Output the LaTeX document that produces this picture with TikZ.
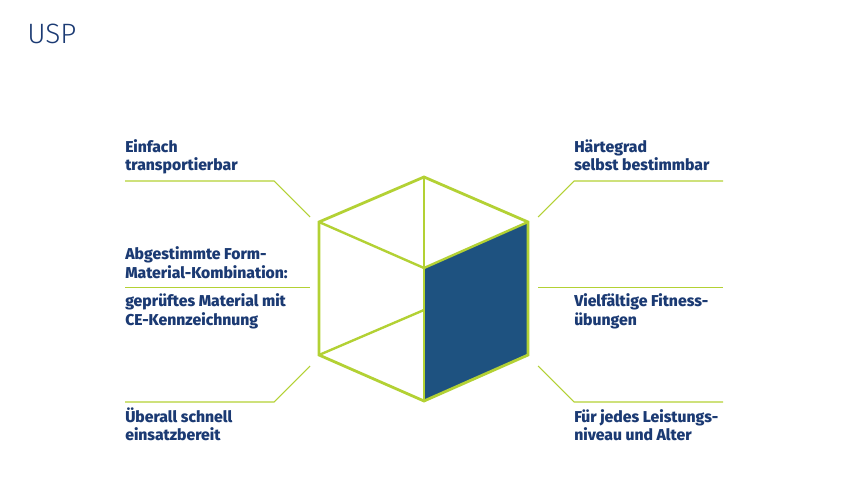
\documentclass[tikz,border=0pt]{standalone}
\usepackage{fontspec}
\setmainfont{Fira Sans}[BoldFont=* ExtraBold]
\newfontfamily\titlefont{Fira Sans}[UprightFont=* Light]
\usepackage{tikz}
\definecolor{uspgreen}{HTML}{B3D134}
\definecolor{uspnavy}{HTML}{1B3A73}
\definecolor{uspblue}{HTML}{1E5280}

\begin{document}
\begin{tikzpicture}[x=0.75pt,y=-0.75pt]
\tikzstyle{every node}+=[inner sep=0pt]
\tikzset{
  edge/.style={draw=uspgreen,line width=2.1pt,line join=miter},
  inner/.style={draw=uspgreen,line width=1.8pt},
  leader/.style={draw=uspgreen,line width=0.8pt},
  usp/.style={anchor=base west,align=left,text=uspnavy,
    font=\fontsize{11.8}{13.5}\selectfont\bfseries}
}
\useasboundingbox (0,0) rectangle (848,491);
% title
\node [anchor=base west,text=uspnavy,font=\fontsize{21}{24}\selectfont\titlefont] (title) at (27,44) {USP};
% cube corners
\coordinate (top) at (424,177);
\coordinate (ul) at (319,222);
\coordinate (ur) at (528,222);
\coordinate (mid) at (424,268);
\coordinate (ll) at (319,355);
\coordinate (lr) at (528,355);
\coordinate (bot) at (424,401);
\coordinate (back) at (424,310);
\fill [uspblue] (mid) -- (ur) -- (lr) -- (bot) -- cycle;
\draw [inner] (ul) -- (mid) -- (ur);
\draw [inner] (mid) -- (bot);
\draw [inner] (ll) -- (back);
\draw [inner,line width=1.5pt] (top) -- (mid);
\draw [edge] (top) -- (ur) -- (lr) -- (bot) -- (ll) -- (ul) -- cycle;
% labels (anchored at the baseline of the last line)
\node [usp] (transport) at (125,171) {Einfach\\transportierbar};
\node [usp] (form) at (125,278) {Abgestimmte Form-\\Material-Kombination:};
\node [usp] (material) at (125,325) {geprüftes Material mit\\CE-Kennzeichnung};
\node [usp] (einsatz) at (125,440) {Überall schnell\\einsatzbereit};
\node [usp] (haerte) at (574,171) {Härtegrad\\selbst bestimmbar};
\node [usp] (fitness) at (574,325) {Vielfältige Fitness-\\übungen};
\node [usp] (niveau) at (574,440) {Für jedes Leistungs-\\niveau und Alter};
% leader lines
\coordinate (lt1) at (125,181); \coordinate (lt2) at (274,181); \coordinate (lt3) at (310,217);
\coordinate (lm1) at (125,287.5); \coordinate (lm2) at (310,287.5);
\coordinate (lb1) at (125,402); \coordinate (lb2) at (274,402); \coordinate (lb3) at (310,366);
\coordinate (rt1) at (723,181); \coordinate (rt2) at (574,181); \coordinate (rt3) at (538,217);
\coordinate (rm1) at (723,287.5); \coordinate (rm2) at (538,287.5);
\coordinate (rb1) at (723,402); \coordinate (rb2) at (574,402); \coordinate (rb3) at (538,366);
\draw [leader] (lt1) -- (lt2) -- (lt3);
\draw [leader] (lm1) -- (lm2);
\draw [leader] (lb1) -- (lb2) -- (lb3);
\draw [leader] (rt1) -- (rt2) -- (rt3);
\draw [leader] (rm1) -- (rm2);
\draw [leader] (rb1) -- (rb2) -- (rb3);
\end{tikzpicture}
\end{document}
